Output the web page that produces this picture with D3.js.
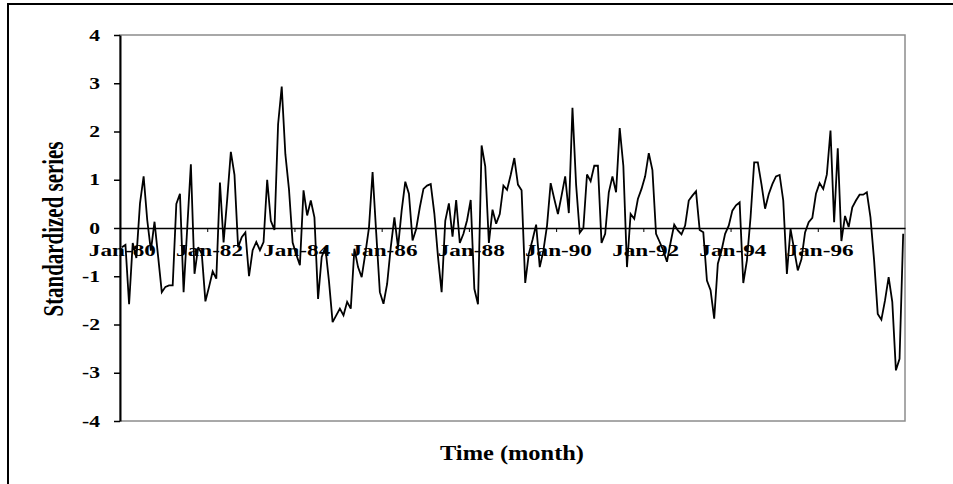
<!DOCTYPE html>
<html>
<head>
<meta charset="utf-8">
<script src="https://cdnjs.cloudflare.com/ajax/libs/d3/7.8.5/d3.min.js"></script>
<style>
  body { margin: 0; background: #fff; }
  svg { display: block; }
  text { font-family: "Liberation Serif", "Times New Roman", serif; font-weight: bold; fill: #000; }
</style>
</head>
<body>
<div id="chart"></div>
<script>

// Monthly categories, Jan-80 .. Dec-97
var firstMonth = new Date(Date.UTC(1980, 0, 1));
var tickLabels = ["Jan-80", "Jan-82", "Jan-84", "Jan-86", "Jan-88", "Jan-90", "Jan-92", "Jan-94", "Jan-96"];
var yTicks = [-4, -3, -2, -1, 0, 1, 2, 3, 4];

// standardized series, one row per year
var values = [
  -0.40, -0.35, -1.58, -0.31, -0.62, 0.51, 1.07, 0.16, -0.47, 0.13, -0.60, -1.33,
  -1.22, -1.19, -1.19, 0.50, 0.71, -1.33, 0.00, 1.32, -0.95, -0.40, -0.53, -1.52,
  -1.22, -0.90, -1.05, 0.94, -0.30, 0.60, 1.58, 1.10, -0.40, -0.19, -0.09, -1.00,
  -0.46, -0.29, -0.46, -0.29, 1.00, 0.15, -0.04, 2.15, 2.93, 1.53, 0.80, -0.30,
  -0.55, -0.77, 0.78, 0.26, 0.57, 0.22, -1.47, -0.60, -0.40, -1.10, -1.95, -1.81,
  -1.67, -1.81, -1.53, -1.67, -0.43, -0.81, -1.02, -0.53, 0.00, 1.16, -0.10, -1.33,
  -1.57, -1.16, -0.40, 0.22, -0.40, 0.36, 0.96, 0.71, -0.26, -0.02, 0.43, 0.81,
  0.88, 0.91, 0.30, -0.60, -1.33, 0.15, 0.51, -0.18, 0.58, -0.31, -0.12, 0.16,
  0.58, -1.26, -1.58, 1.71, 1.28, -0.31, 0.38, 0.09, 0.29, 0.88, 0.79, 1.10,
  1.45, 0.90, 0.78, -1.14, -0.53, -0.25, 0.07, -0.81, -0.47, 0.05, 0.93, 0.60,
  0.29, 0.67, 1.07, 0.31, 2.49, 0.90, -0.10, 0.00, 1.11, 0.97, 1.29, 1.29,
  -0.31, -0.12, 0.74, 1.07, 0.74, 2.07, 1.29, -0.81, 0.29, 0.19, 0.60, 0.81,
  1.07, 1.55, 1.20, -0.12, -0.29, -0.47, -0.70, -0.30, 0.07, -0.05, -0.13, 0.05,
  0.57, 0.67, 0.76, -0.04, -0.09, -1.09, -1.29, -1.88, -0.74, -0.47, -0.12, 0.05,
  0.36, 0.47, 0.53, -1.14, -0.67, 0.22, 1.36, 1.36, 0.91, 0.40, 0.70, 0.91,
  1.07, 1.10, 0.57, -0.95, -0.02, -0.45, -0.88, -0.65, -0.09, 0.12, 0.21, 0.71,
  0.93, 0.81, 1.11, 2.02, 0.12, 1.65, -0.27, 0.25, 0.02, 0.43, 0.57, 0.69,
  0.69, 0.74, 0.22, -0.67, -1.78, -1.90, -1.50, -1.02, -1.53, -2.95, -2.71, -0.12
];

var months = values.map(function(d, i) { return d3.utcMonth.offset(firstMonth, i); });

var width = 953, height = 484;
var plot = {left: 120, right: 905, top: 35, bottom: 421};
var stretch = 1.45; // the picture's text is wider than it is tall

function widen(sel, k) {
  sel.each(function() {
    var n = this.getComputedTextLength();
    d3.select(this).attr("textLength", n * k).attr("lengthAdjust", "spacingAndGlyphs");
  });
}

var svg = d3.select("#chart").append("svg")
  .attr("width", width)
  .attr("height", height);

// outer chart frame (runs off the right and bottom of the picture)
svg.append("rect")
  .attr("x", 8).attr("y", 4)
  .attr("width", width).attr("height", height)
  .attr("fill", "none")
  .attr("stroke", "#000")
  .attr("stroke-width", 2);

var x = d3.scalePoint()
  .domain(d3.range(months.length))
  .range([plot.left, plot.right])
  .padding(0.5);
// category boundaries, for the tick marks
var xb = d3.scaleLinear().domain([0, months.length]).range([plot.left, plot.right]);
var y = d3.scaleLinear().domain([-4, 4]).range([plot.bottom, plot.top]);

// plot area border
svg.append("rect")
  .attr("x", plot.left).attr("y", plot.top)
  .attr("width", plot.right - plot.left)
  .attr("height", plot.bottom - plot.top)
  .attr("fill", "none")
  .attr("stroke", "#8c8c8c")
  .attr("stroke-width", 1.5);

// x axis sits on the zero line
var tickIdx = tickLabels.map(function(d, i) { return i * 24; });
var xAxis = svg.append("g")
  .attr("transform", "translate(0," + y(0) + ")")
  .call(d3.axisBottom(xb)
    .tickValues(tickIdx)
    .tickSize(4)
    .tickSizeOuter(0)
    .tickFormat(function(d) { return tickLabels[d / 24]; }));
xAxis.select(".domain").attr("stroke", "#000").attr("stroke-width", 1.5);
xAxis.selectAll(".tick line").attr("stroke", "#000").attr("stroke-width", 1);
xAxis.selectAll(".tick text")
  .attr("x", x.step() / 2)
  .attr("y", 28)
  .attr("dy", 0)
  .style("font-size", "16px")
  .call(widen, stretch);

// y axis
var yAxis = svg.append("g")
  .attr("transform", "translate(" + plot.left + ",0)")
  .call(d3.axisLeft(y)
    .tickValues(yTicks)
    .tickSize(6)
    .tickSizeOuter(0)
    .tickFormat(function(d) { return String(d); }));
yAxis.select(".domain").attr("stroke", "#000").attr("stroke-width", 2);
yAxis.selectAll(".tick line").attr("stroke", "#000").attr("stroke-width", 1.5);
yAxis.selectAll(".tick text")
  .attr("x", -20)
  .style("font-size", "16px")
  .call(widen, 1.35);

// the series
svg.append("path")
  .datum(values)
  .attr("fill", "none")
  .attr("stroke", "#000")
  .attr("stroke-width", 1.8)
  .attr("stroke-linejoin", "miter")
  .attr("stroke-miterlimit", 3)
  .attr("d", d3.line()
    .x(function(d, i) { return x(i); })
    .y(function(d) { return y(d); }));

// axis titles
svg.append("text")
  .attr("transform", "translate(63,229) rotate(-90)")
  .attr("text-anchor", "middle")
  .style("font-size", "30px")
  .attr("textLength", 175)
  .attr("lengthAdjust", "spacingAndGlyphs")
  .text("Standardized series");

svg.append("text")
  .attr("x", 512)
  .attr("y", 460)
  .attr("text-anchor", "middle")
  .style("font-size", "21px")
  .attr("textLength", 144)
  .attr("lengthAdjust", "spacingAndGlyphs")
  .text("Time (month)");

</script>
</body>
</html>
